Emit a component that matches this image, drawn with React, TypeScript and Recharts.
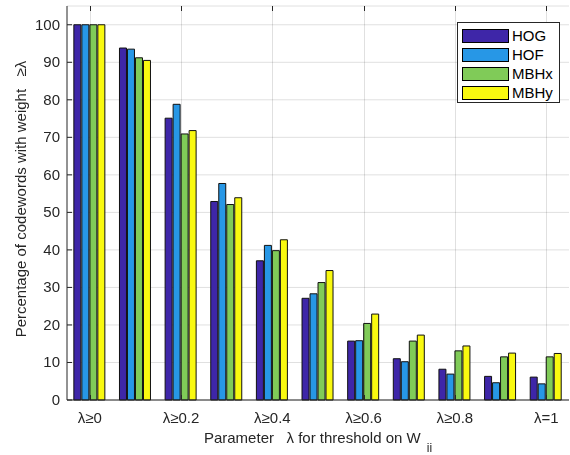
import { Bar, BarChart, CartesianGrid, XAxis, YAxis } from "recharts";

const categories = ["λ≥0", "λ≥0.1", "λ≥0.2", "λ≥0.3", "λ≥0.4", "λ≥0.5", "λ≥0.6", "λ≥0.7", "λ≥0.8", "λ≥0.9", "λ=1"];
const hog = [100, 93.8, 75.1, 52.9, 37.1, 27.1, 15.7, 11.0, 8.2, 6.3, 6.1];
const hof = [100, 93.5, 78.8, 57.7, 41.2, 28.3, 15.8, 10.2, 6.9, 4.6, 4.3];
const mbhx = [100, 91.2, 70.9, 52.1, 39.8, 31.3, 20.4, 15.7, 13.1, 11.5, 11.5];
const mbhy = [100, 90.5, 71.8, 53.9, 42.7, 34.5, 22.9, 17.3, 14.4, 12.5, 12.4];
const yTicks = [0, 10, 20, 30, 40, 50, 60, 70, 80, 90, 100];

const series = [
  { key: "HOG", color: "#3E26A8" },
  { key: "HOF", color: "#2797E6" },
  { key: "MBHx", color: "#80CB58" },
  { key: "MBHy", color: "#F9F910" },
];

const data = categories.map((name, i) => ({
  name,
  HOG: hog[i],
  HOF: hof[i],
  MBHx: mbhx[i],
  MBHy: mbhy[i],
}));

const W = 570;
const H = 455;
const TOP = 6;
const XAXIS_H = 55;
const BOTTOM = H - XAXIS_H;

const FONT = "'Liberation Sans', Arial, Helvetica, sans-serif";
const INK = "#262626";
const GRID = "#E0E0E0";

// bottom tick: label, vertical grid line and inward tick marks top and bottom
function XTick({ x, payload }: any) {
  const xr = Math.round(x) + 0.5;
  return (
    <g>
      <line x1={xr} x2={xr} y1={TOP} y2={BOTTOM} stroke={GRID} style={{ mixBlendMode: "multiply" }} />
      <line x1={xr} x2={xr} y1={TOP} y2={TOP + 5} stroke={INK} />
      <line x1={xr} x2={xr} y1={BOTTOM - 5} y2={BOTTOM} stroke={INK} />
      <text x={x} y={423} textAnchor="middle" fontSize={15} fill={INK} fontFamily={FONT}>
        {payload.value}
      </text>
    </g>
  );
}

function YTick({ y, payload }: any) {
  return (
    <text x={60} y={y + 5} textAnchor="end" fontSize={15} fill={INK} fontFamily={FONT}>
      {payload.value}
    </text>
  );
}

function YTitle({ viewBox }: any) {
  const cy = viewBox.y + viewBox.height / 2 - 4;
  return (
    <text
      x={20}
      y={cy}
      transform={`rotate(-90, 20, ${cy})`}
      textAnchor="middle"
      dominantBaseline="central"
      fontSize={15}
      fill={INK}
      fontFamily={FONT}
    >
      Percentage of codewords with weight {"\u00a0\u00a0"}≥λ
    </text>
  );
}

function XTitle({ viewBox }: any) {
  const cx = viewBox.x + viewBox.width / 2;
  return (
    <text x={cx} y={443} textAnchor="middle" fontSize={15} fill={INK} fontFamily={FONT}>
      Parameter {"\u00a0\u00a0"}λ for threshold on W
      <tspan fontSize={12} dy={9} dx={6}>ii</tspan>
    </text>
  );
}

function LegendBox() {
  return (
    <div
      style={{
        position: "absolute",
        left: 457,
        top: 22,
        width: 103,
        height: 81,
        background: "#fff",
        border: "1px solid #262626",
        padding: "3px 0 0 4px",
        boxSizing: "border-box",
        fontFamily: FONT,
        fontSize: 15,
        color: "#000",
      }}
    >
      {series.map((s) => (
        <div key={s.key} style={{ display: "flex", alignItems: "center", height: 19 }}>
          <div style={{ width: 47, height: 14, background: s.color, border: "1px solid #000", boxSizing: "border-box", marginRight: 3 }} />
          {s.key}
        </div>
      ))}
    </div>
  );
}

export default function App() {
  return (
    <div style={{ position: "absolute", left: 0, top: 0, width: W, height: H, background: "#fff" }}>
      <BarChart
        width={W}
        height={H}
        data={data}
        margin={{ top: TOP, right: 1, left: 0, bottom: 0 }}
        barCategoryGap="15%"
        barGap={1}
      >
        <CartesianGrid stroke={GRID} vertical={false} />
        <XAxis
          dataKey="name"
          interval={1}
          height={XAXIS_H}
          stroke={INK}
          tickLine={false}
          tick={<XTick />}
          label={<XTitle />}
        />
        <XAxis
          xAxisId="top"
          orientation="top"
          dataKey="name"
          height={0}
          stroke={INK}
          tick={false}
        />
        <YAxis
          domain={[0, 105]}
          ticks={yTicks}
          width={67}
          stroke={INK}
          tickSize={-5}
          tick={<YTick />}
          label={<YTitle />}
        />
        <YAxis
          yAxisId="right"
          orientation="right"
          domain={[0, 105]}
          ticks={yTicks}
          width={0}
          stroke={INK}
          tickSize={-5}
          tickFormatter={() => ""}
        />
        {series.map((s) => (
          <Bar
            key={s.key}
            dataKey={s.key}
            fill={s.color}
            stroke="#111"
            strokeWidth={1}
            isAnimationActive={false}
          />
        ))}
      </BarChart>
      <LegendBox />
    </div>
  );
}
